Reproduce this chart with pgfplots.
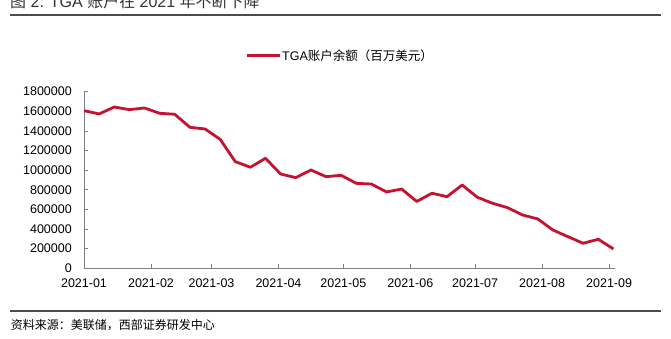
\documentclass[border=0pt]{standalone}
\usepackage{fontspec}
\setmainfont{Liberation Sans}
\newfontfamily\cjk{Noto Sans CJK SC}
\usepackage{pgfplots}
\pgfplotsset{compat=1.18}
\definecolor{tgared}{RGB}{196,18,48}
\definecolor{axgray}{RGB}{128,128,128}
\begin{document}
\begin{tikzpicture}[x=1pt,y=1pt]
\useasboundingbox (0,0) rectangle (671,339);
\clip (0,0) rectangle (671,339);
\node[anchor=base west, inner sep=0pt, font=\fontsize{16}{18}\selectfont, text=black!80] at (10,331) {{\cjk 图} 2: TGA {\cjk 账户在} 2021 {\cjk 年不断下降}};
\draw[line width=1.2pt, black!70] (10,324) -- (661,324);
\draw[line width=1.2pt, black!70] (10,28) -- (661,28);
\node[anchor=base west, inner sep=0pt, font=\fontsize{12}{14}\selectfont] at (10.7,9) {\cjk 资料来源：美联储，西部证券研发中心};
\begin{axis}[
  at={(84pt,70.7pt)}, anchor=south west,
  scale only axis, width=530.5pt, height=176.6pt,
  xmin=0, xmax=245.5, ymin=0, ymax=1800000,
  axis lines=left, axis line style={-, axgray, line width=0.8pt},
  tick align=inside, major tick length=4pt, tick style={axgray, line width=0.8pt},
  xtick={0,31,59,90,120,151,181,212,243},
  xticklabels={2021-01,2021-02,2021-03,2021-04,2021-05,2021-06,2021-07,2021-08,2021-09},
  ytick={0,200000,400000,600000,800000,1000000,1200000,1400000,1600000,1800000},
  yticklabels={0,200000,400000,600000,800000,1000000,1200000,1400000,1600000,1800000},
  scaled y ticks=false,
  xticklabel style={inner sep=0pt, yshift=-10pt, font=\fontsize{12.5}{14}\selectfont},
  yticklabel style={inner sep=0pt, xshift=-12pt, font=\fontsize{12.5}{14}\selectfont},
  clip=false,
  legend style={at={(0.3035,1.204)}, anchor=west, draw=none, fill=none, inner sep=0pt,
    font=\fontsize{12.5}{14}\selectfont, nodes={inner sep=1pt},
    /tikz/every even column/.append style={column sep=0pt}},
  legend image code/.code={\draw[#1, line width=3pt] (0pt,0pt) -- (33pt,0pt);},
]
\addplot[tgared, line width=2.8pt, line join=round] coordinates {
(0,1607000) (7,1573000) (14,1644000) (21,1617000) (28,1634000) (35,1580000)
(42,1570000) (49,1437000) (56,1420000) (63,1315000) (70,1087000) (77,1030000)
(84,1121000) (91,961000) (98,924000) (105,1002000) (112,934000) (119,948000)
(126,866000) (133,859000) (140,778000) (147,808000) (154,681000) (161,765000)
(168,730000) (175,849000) (182,724000) (189,663000) (196,618000) (203,543000)
(210,503000) (217,390000) (224,322000) (231,255000) (238,296000) (245,197000)
};
\addlegendentry{TGA{\cjk 账户余额（百万美元）}}
\end{axis}
\end{tikzpicture}
\end{document}
